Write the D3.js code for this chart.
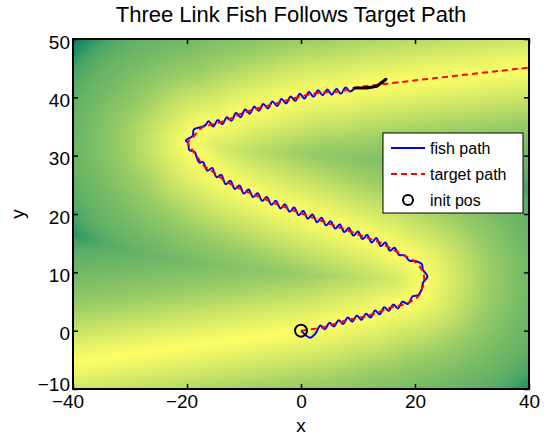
<!DOCTYPE html>
<html>
<head>
<meta charset="utf-8">
<script src="https://cdn.jsdelivr.net/npm/d3@7"></script>
<style>
  body { margin: 0; background: #fff; }
  text { font-family: "Liberation Sans", Arial, Helvetica, sans-serif; fill: #000; }
</style>
</head>
<body>
<div id="chart"></div>
<script>
// ---- data ----
const xTicks = [-40, -20, 0, 20, 40];
const yTicks = [-10, 0, 10, 20, 30, 40, 50];

// target path (red dashed), in data units
const targetPath = [
  [0, 0], [3.9, 0.6], [8.1, 1.8], [11.6, 2.5], [15.6, 3.9], [18.6, 4.7], [20.5, 5.8],
  [21.2, 7.0], [21.6, 9.2], [20.9, 10.9], [19.6, 12.1], [17.9, 13.0], [16.1, 13.9],
  [13.9, 15.1], [12.5, 15.6], [4.2, 18.6], [-4.0, 21.6], [-7.2, 22.9], [-10.2, 24.1],
  [-13.0, 25.5], [-15.4, 27.2], [-17.2, 28.4], [-18.2, 29.8], [-19.1, 31.0], [-19.8, 32.2],
  [-18.9, 33.2], [-17.4, 34.8], [-15.4, 35.4], [-13.0, 36.1], [-10.2, 37.3], [-7.2, 38.2],
  [-4.2, 39.0], [-0.2, 40.1], [3.3, 40.8], [6.8, 41.0], [9.8, 41.7], [13.9, 42.2],
  [20.9, 43.0], [40, 45.1]
];

// where the bright ridge of the background keeps going outside the drawn path
const ridgeBefore = [[-80, -10.8], [-40, -5.4]];
const ridgeAfter = [[80, 49.5]];

// background level (0 = dark teal, 1 = yellow) against distance from the path
const shadeDist = [0, 2, 5, 9.5, 14, 17, 19, 20.5, 22, 24];
const shadeLevel = [1, 0.92, 0.8, 0.6, 0.47, 0.4, 0.34, 0.25, 0.12, 0.05];

// fish path (blue), wiggles around the target
const fishPath = [
  [0, 0], [1.6, -1.2], [2.6, -0.4], [3.4, 0.9], [4.2, 0.25], [5.0, 1.35], [5.8, 0.7],
  [6.6, 1.8], [7.4, 1.15], [8.2, 2.25], [9.0, 1.55], [9.8, 2.6], [10.6, 1.85], [11.4, 2.9],
  [12.2, 2.25], [13.0, 3.45], [13.8, 2.8], [14.6, 4.0], [15.4, 3.4], [16.2, 4.5], [17.0, 3.8],
  [17.8, 4.95], [18.8, 4.6], [19.6, 5.9], [20.6, 6.1], [21.2, 7.2], [21.4, 8.2], [22.2, 9.3],
  [21.4, 10.4], [21.2, 11.4], [20.2, 11.9], [19.0, 12.0], [18.2, 12.9], [17.2, 13.0],
  [16.4, 14.2], [15.6, 13.7], [14.8, 15.1], [14.0, 14.5], [13.2, 15.9], [12.4, 15.1],
  [11.6, 16.4], [10.8, 15.7], [10.0, 17.0], [9.2, 16.3], [8.4, 17.6], [7.6, 16.9],
  [6.8, 18.2], [6.0, 17.5], [5.2, 18.75], [4.4, 18.05], [3.6, 19.35], [2.8, 18.6],
  [2.0, 19.9], [1.2, 19.2], [0.4, 20.5], [-0.4, 19.8], [-1.2, 21.1], [-2.0, 20.4],
  [-2.8, 21.65], [-3.6, 20.95], [-4.4, 22.25], [-5.2, 21.6], [-6.0, 22.9], [-6.8, 22.25],
  [-7.6, 23.55], [-8.4, 22.9], [-9.2, 24.2], [-10.0, 23.5], [-10.8, 24.9], [-11.6, 24.3],
  [-12.4, 25.7], [-13.2, 25.1], [-14.0, 26.7], [-14.8, 26.3], [-15.6, 27.9], [-16.4, 27.4],
  [-17.2, 28.9], [-17.8, 28.8], [-18.4, 30.0], [-18.6, 30.6], [-19.6, 31.0], [-19.8, 32.2],
  [-20.2, 32.6], [-19.0, 33.4], [-18.8, 34.5], [-17.6, 34.9], [-16.8, 35.2], [-16.2, 35.9],
  [-15.4, 35.0], [-14.6, 36.1], [-13.8, 35.4], [-13.0, 36.6], [-12.2, 36.0], [-11.4, 37.3],
  [-10.6, 36.6], [-9.8, 37.9], [-9.0, 37.2], [-8.2, 38.4], [-7.4, 37.7], [-6.6, 38.85],
  [-5.8, 38.1], [-5.0, 39.3], [-4.2, 38.5], [-3.4, 39.7], [-2.6, 38.95], [-1.8, 40.15],
  [-1.0, 39.4], [-0.2, 40.6], [0.6, 39.8], [1.4, 40.9], [2.2, 40.1], [3.0, 41.2],
  [3.8, 40.35], [4.6, 41.35], [5.4, 40.45], [6.2, 41.45], [7.0, 40.6], [7.8, 41.7],
  [8.6, 41.0], [9.4, 41.6]
];

// the three links of the fish at the end (black)
const fishBody = [[9.4, 41.6], [11.6, 41.6], [13.3, 41.9], [14.9, 43.1]];
const initPos = [0, 0];
const legendLabels = ['fish path', 'target path', 'init pos'];

// ---- layout ----
const W = 550, H = 438;
const margin = { top: 39, right: 21, bottom: 49, left: 73 };
const width = W - margin.left - margin.right;
const height = H - margin.top - margin.bottom;

const x = d3.scaleLinear().domain([-40, 40]).range([0, width]);
const y = d3.scaleLinear().domain([-10, 50]).range([height, 0]);
// MATLAB "summer" colormap
const summer = d3.scaleLinear().domain([0, 1]).range(['rgb(0,128,102)', 'rgb(255,255,102)']);
const shade = d3.scaleLinear().domain(shadeDist).range(shadeLevel).clamp(true);

const svg = d3.select('#chart').append('svg')
  .attr('width', W)
  .attr('height', H);

svg.append('defs').append('clipPath')
  .attr('id', 'plotClip')
  .append('rect')
    .attr('width', width)
    .attr('height', height);

const g = svg.append('g')
  .attr('transform', 'translate(' + margin.left + ',' + margin.top + ')');

const smooth = d3.line()
  .x((d) => x(d[0]))
  .y((d) => y(d[1]))
  .curve(d3.curveCatmullRom.alpha(0.5));

const straight = d3.line()
  .x((d) => x(d[0]))
  .y((d) => y(d[1]));

// ---- background: how far a point is from the target path ----
const guide = g.append('path')
  .attr('d', smooth(ridgeBefore.concat(targetPath, ridgeAfter)))
  .attr('fill', 'none')
  .attr('stroke', 'none');

const samples = [];
const total = guide.node().getTotalLength();
for (let s = 0; s <= total; s += 1.5) {
  const p = guide.node().getPointAtLength(s);
  samples.push([x.invert(p.x), y.invert(p.y)]);
}

const gx = d3.range(-40, 40.01, 0.5);
const gy = d3.range(50, -10.01, -0.5);
const canvas = document.createElement('canvas');
canvas.width = gx.length;
canvas.height = gy.length;
const ctx = canvas.getContext('2d');
const img = ctx.createImageData(gx.length, gy.length);
const xWeight = 0.8; // sideways distance counts a bit less
gy.forEach((vy, j) => {
  gx.forEach((vx, i) => {
    let best = Infinity;
    for (let k = 0; k < samples.length; k++) {
      const dx = (samples[k][0] - vx) * xWeight;
      const dy = samples[k][1] - vy;
      const d2 = dx * dx + dy * dy;
      if (d2 < best) best = d2;
    }
    const c = d3.rgb(summer(shade(Math.sqrt(best))));
    const o = (j * gx.length + i) * 4;
    img.data[o] = c.r;
    img.data[o + 1] = c.g;
    img.data[o + 2] = c.b;
    img.data[o + 3] = 255;
  });
});
ctx.putImageData(img, 0, 0);

g.append('g')
  .attr('clip-path', 'url(#plotClip)')
  .append('image')
    .attr('href', canvas.toDataURL())
    .attr('x', x(-40.25))
    .attr('y', y(50.25))
    .attr('width', x(40.25) - x(-40.25))
    .attr('height', y(-10.25) - y(50.25))
    .attr('preserveAspectRatio', 'none');

// ---- paths ----
const marks = g.append('g').attr('clip-path', 'url(#plotClip)');

marks.append('path')
  .attr('d', smooth(fishPath))
  .attr('fill', 'none')
  .attr('stroke', '#0000ff')
  .attr('stroke-width', 2)
  .attr('stroke-linejoin', 'round');

marks.append('path')
  .attr('d', smooth(targetPath))
  .attr('fill', 'none')
  .attr('stroke', '#ff0000')
  .attr('stroke-width', 2)
  .attr('stroke-dasharray', '6,4');

marks.append('circle')
  .attr('cx', x(initPos[0]))
  .attr('cy', y(initPos[1]))
  .attr('r', 6)
  .attr('fill', 'none')
  .attr('stroke', '#000')
  .attr('stroke-width', 2);

marks.append('path')
  .attr('d', straight(fishBody))
  .attr('fill', 'none')
  .attr('stroke', '#000')
  .attr('stroke-width', 3)
  .attr('stroke-linecap', 'round')
  .attr('stroke-linejoin', 'round');

// ---- axes ----
const minus = (d) => (d < 0 ? '\u2212' + Math.abs(d) : String(d));

const xAxis = g.append('g')
  .attr('transform', 'translate(0,' + height + ')')
  .call(d3.axisBottom(x).tickValues(xTicks).tickSize(-5).tickSizeOuter(0).tickPadding(6).tickFormat(minus));
xAxis.selectAll('text')
  .style('font-size', '19px')
  .attr('dx', (d) => (d < 0 ? '-0.29em' : 0));

g.append('g')
  .call(d3.axisTop(x).tickValues(xTicks).tickSize(-5).tickSizeOuter(0).tickFormat(''));

const yAxis = g.append('g')
  .call(d3.axisLeft(y).tickValues(yTicks).tickSize(-5).tickSizeOuter(0).tickPadding(3).tickFormat(minus));
yAxis.selectAll('text')
  .style('font-size', '19px')
  .attr('dy', 0)
  .attr('y', (d) => Math.min(9, height + 1 - y(d)));

g.append('g')
  .attr('transform', 'translate(' + width + ',0)')
  .call(d3.axisRight(y).tickValues(yTicks).tickSize(-5).tickSizeOuter(0).tickFormat(''));

g.selectAll('.domain').remove();
g.selectAll('.tick line').attr('stroke', '#000').attr('stroke-width', 1.5);

g.append('rect')
  .attr('width', width)
  .attr('height', height)
  .attr('fill', 'none')
  .attr('stroke', '#000')
  .attr('stroke-width', 2);

// axis labels and title
g.append('text')
  .attr('x', width / 2)
  .attr('y', height + 43)
  .attr('text-anchor', 'middle')
  .style('font-size', '19px')
  .text('x');

svg.append('text')
  .attr('transform', 'translate(24,' + (margin.top + height / 2) + ') rotate(-90)')
  .attr('text-anchor', 'middle')
  .style('font-size', '19px')
  .text('y');

svg.append('text')
  .attr('x', 291)
  .attr('y', 22)
  .attr('text-anchor', 'middle')
  .style('font-size', '22px')
  .text('Three Link Fish Follows Target Path');

// ---- legend ----
const legend = svg.append('g').attr('transform', 'translate(383,133)');
legend.append('rect')
  .attr('width', 140)
  .attr('height', 80)
  .attr('fill', '#fff')
  .attr('stroke', '#000')
  .attr('stroke-width', 1);

const rows = legend.selectAll('g.row')
  .data(legendLabels)
  .enter().append('g')
    .attr('class', 'row')
    .attr('transform', (d, i) => 'translate(0,' + (15 + i * 26) + ')');

rows.append('text')
  .attr('x', 47)
  .attr('y', 5.5)
  .style('font-size', '16px')
  .text((d) => d);

rows.filter((d, i) => i === 0).append('line')
  .attr('x1', 8).attr('x2', 42)
  .attr('stroke', '#0000ff').attr('stroke-width', 2);

rows.filter((d, i) => i === 1).append('line')
  .attr('x1', 8).attr('x2', 42)
  .attr('stroke', '#ff0000').attr('stroke-width', 2)
  .attr('stroke-dasharray', '6,4');

rows.filter((d, i) => i === 2).append('circle')
  .attr('cx', 25)
  .attr('r', 5)
  .attr('fill', 'none')
  .attr('stroke', '#000')
  .attr('stroke-width', 2);
</script>
</body>
</html>
